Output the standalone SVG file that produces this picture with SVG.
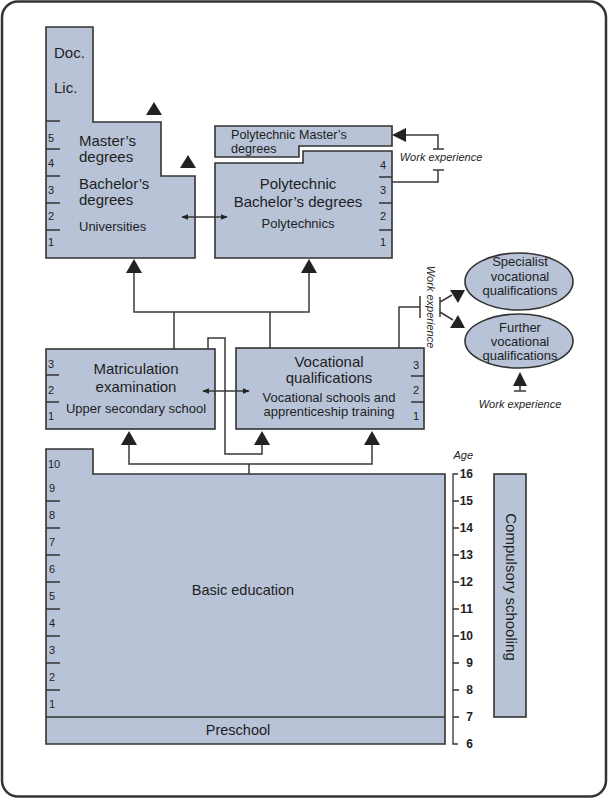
<svg xmlns="http://www.w3.org/2000/svg" width="609" height="799" viewBox="0 0 609 799">
<defs>
<style>
.box{fill:#b8c3d8;stroke:#333;stroke-width:1.6;stroke-linejoin:miter}
.ln{fill:none;stroke:#3a3a3a;stroke-width:1.5}
.tk{fill:none;stroke:#333;stroke-width:1.3}
.tri{fill:#222;stroke:none}
text{font-family:"Liberation Sans",Arial,sans-serif;fill:#1e1e1e}
.big{font-size:15px}
.med{font-size:13px}
.num{font-size:11px}
.age{font-size:12px;font-weight:bold;text-anchor:end}
.we{font-size:11px;font-style:italic}
.mid{text-anchor:middle}
</style>
<marker id="ah" viewBox="0 0 10 10" refX="9" refY="5" markerWidth="7" markerHeight="7" markerUnits="userSpaceOnUse" orient="auto-start-reverse">
<path d="M0,1 L10,5 L0,9 Z" fill="#222"/>
</marker>
</defs>
<rect x="2" y="1.5" width="604" height="795" rx="16" fill="#fff" stroke="#333" stroke-width="2.5"/>

<g id="universities">
<polygon class="box" points="46,27 93,27 93,122 161,122 161,176 195,176 195,258 46,258"/>
<path class="tk" d="M46,121H60M46,149H60M46,176H60M46,203H60M46,230H60"/>
<text class="num" x="48" y="142">5</text>
<text class="num" x="48" y="167">4</text>
<text class="num" x="48" y="194">3</text>
<text class="num" x="48" y="220">2</text>
<text class="num" x="48" y="246">1</text>
<text class="big" x="54" y="58">Doc.</text>
<text class="big" x="54" y="93">Lic.</text>
<text class="big" x="79" y="146">Master’s</text>
<text class="big" x="79" y="162">degrees</text>
<text class="big" x="79" y="189">Bachelor’s</text>
<text class="big" x="79" y="205">degrees</text>
<text class="med" x="79" y="231">Universities</text>
<polygon class="tri" points="154,102 162,115 146,115"/>
<polygon class="tri" points="188,155 196,168 180,168"/>
</g>

<g id="poly-master">
<polygon class="box" points="215,126 392,126 392,146 299,146 299,157 215,157"/>
<text x="231" y="139" style="font-size:12.6px">Polytechnic Master’s</text>
<text x="231" y="153" style="font-size:12.6px">degrees</text>
</g>

<g id="poly-bachelor">
<polygon class="box" points="215,163 303,163 303,151 392,151 392,258 215,258"/>
<path class="tk" d="M379,177H392M379,203H392M379,230H392"/>
<text class="num" x="380" y="169">4</text>
<text class="num" x="380" y="194">3</text>
<text class="num" x="380" y="220">2</text>
<text class="num" x="380" y="246">1</text>
<text class="big mid" x="298" y="189">Polytechnic</text>
<text class="big mid" x="298" y="207">Bachelor’s degrees</text>
<text class="med mid" x="298" y="228">Polytechnics</text>
</g>

<g id="matriculation">
<rect class="box" x="46" y="349" width="169" height="80"/>
<path class="tk" d="M46,375H59M46,402H59"/>
<text class="num" x="48" y="368">3</text>
<text class="num" x="48" y="394">2</text>
<text class="num" x="48" y="420">1</text>
<text class="big mid" x="136" y="374">Matriculation</text>
<text class="big mid" x="136" y="392">examination</text>
<text class="med mid" x="136" y="413">Upper secondary school</text>
</g>

<g id="vocational">
<rect class="box" x="236" y="348" width="188" height="81"/>
<path class="tk" d="M411,376H424M411,402H424"/>
<text class="num" x="413" y="369">3</text>
<text class="num" x="413" y="394">2</text>
<text class="num" x="413" y="420">1</text>
<text class="big mid" x="329" y="367">Vocational</text>
<text class="big mid" x="329" y="383">qualifications</text>
<text class="med mid" x="329" y="402">Vocational schools and</text>
<text class="med mid" x="329" y="416">apprenticeship training</text>
</g>

<g id="specialist">
<ellipse class="box" cx="519" cy="281.5" rx="54" ry="28.5"/>
<text class="med mid" x="520" y="266">Specialist</text>
<text class="med mid" x="520" y="281">vocational</text>
<text class="med mid" x="520" y="295">qualifications</text>
</g>

<g id="further">
<ellipse class="box" cx="519" cy="341" rx="54" ry="27"/>
<text class="med mid" x="520" y="332">Further</text>
<text class="med mid" x="520" y="346">vocational</text>
<text class="med mid" x="520" y="360">qualifications</text>
</g>

<g id="basic">
<polygon class="box" points="46,449 93,449 93,474 445,474 445,744 46,744"/>
<path class="tk" d="M46,717H445"/>
<path class="tk" d="M46,501H60M46,528H60M46,555H60M46,582H60M46,609H60M46,636H60M46,663H60M46,690H60"/>
<text class="num" x="48" y="468">10</text>
<text class="num" x="49" y="492">9</text>
<text class="num" x="49" y="519">8</text>
<text class="num" x="49" y="546">7</text>
<text class="num" x="49" y="573">6</text>
<text class="num" x="49" y="600">5</text>
<text class="num" x="49" y="627">4</text>
<text class="num" x="49" y="654">3</text>
<text class="num" x="49" y="681">2</text>
<text class="num" x="49" y="708">1</text>
<text class="big mid" x="243" y="595" style="font-size:14.5px">Basic education</text>
<text class="big mid" x="238" y="735" style="font-size:14.5px">Preschool</text>
</g>

<g id="compulsory">
<rect class="box" x="494" y="474" width="32" height="243"/>
<text class="big mid" transform="translate(506,587) rotate(90)">Compulsory schooling</text>
</g>

<g id="age-axis">
<path class="tk" d="M458,474H453V744H458"/>
<path class="tk" d="M453,501H459M453,528H459M453,555H459M453,582H459M453,609H459M453,636H459M453,663H459M453,690H459M453,717H459"/>
<text class="we" x="473" y="459" text-anchor="end">Age</text>
<text class="age" x="473" y="478">16</text>
<text class="age" x="473" y="505">15</text>
<text class="age" x="473" y="532">14</text>
<text class="age" x="473" y="559">13</text>
<text class="age" x="473" y="586">12</text>
<text class="age" x="473" y="613">11</text>
<text class="age" x="473" y="640">10</text>
<text class="age" x="473" y="667">9</text>
<text class="age" x="473" y="694">8</text>
<text class="age" x="473" y="721">7</text>
<text class="age" x="473" y="748">6</text>
</g>

<g id="connectors">
<path class="ln" d="M134,272V312H309V272M174,312V349M270,312V348"/>
<polygon class="tri" points="134,259 142,273 126,273"/>
<polygon class="tri" points="309,259 317,273 301,273"/>
<line class="ln" x1="182" y1="217" x2="227" y2="217" marker-start="url(#ah)" marker-end="url(#ah)"/>
<line class="ln" x1="203" y1="391" x2="249" y2="391" marker-start="url(#ah)" marker-end="url(#ah)"/>
<path class="ln" d="M208,349V338H225V454H262V444"/>
<polygon class="tri" points="262,431 270,445 254,445"/>
<path class="ln" d="M249,474V464M129,444V464H372V444"/>
<polygon class="tri" points="129,431 137,445 121,445"/>
<polygon class="tri" points="372,431 380,445 364,445"/>
<path class="ln" d="M405,135H438V149M433,149H444M433,170H444M438,170V182H392"/>
<polygon class="tri" points="392,135 406,128 406,142"/>
<text class="we" x="441" y="161" text-anchor="middle">Work experience</text>
<path class="ln" d="M399,348V307H420M420,296V318M440,297V317M440,302L452,295M440,312L453,320"/>
<polygon class="tri" points="450,290 465,290 458,303"/>
<polygon class="tri" points="450,328 465,328 458,315"/>
<text class="we" text-anchor="middle" transform="translate(427,307) rotate(90)">Work experience</text>
<path class="ln" d="M520,385V391M514,391H526"/>
<polygon class="tri" points="520,372 527,386 513,386"/>
<text class="we" x="520" y="408" text-anchor="middle">Work experience</text>
</g>
</svg>
